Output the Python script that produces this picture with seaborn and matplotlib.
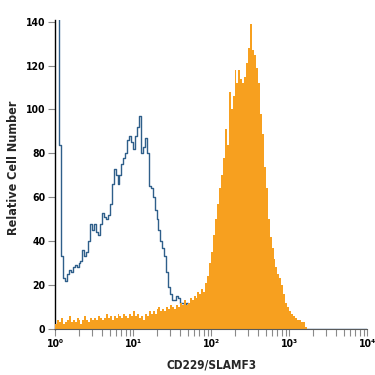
import matplotlib
matplotlib.use('AGG')
import numpy as np
import matplotlib.pyplot as plt
from matplotlib.ticker import FixedLocator, FixedFormatter, LogLocator, NullFormatter
import seaborn as sns

# histogram channels: 0.025 decades wide, from 10^0 to 10^4
LOG_STEP = 0.025
N_BINS = 160

# isotype control (blue outline), counts per channel
isotype_counts = [
    160, 145, 84, 33, 23, 22, 25, 27, 26, 28,
    29, 28, 30, 31, 36, 33, 35, 40, 48, 45,
    48, 44, 43, 48, 53, 51, 50, 52, 57, 66,
    73, 70, 66, 70, 75, 78, 80, 86, 88, 85,
    82, 88, 92, 97, 80, 83, 87, 80, 65, 64,
    60, 54, 50, 45, 40, 37, 33, 26, 19, 16,
    13, 13, 15, 14, 12, 12, 11, 12, 11, 10,
    7, 4, 2,
]
isotype_counts = isotype_counts + [0] * (N_BINS - len(isotype_counts))

# CD229/SLAMF3 stained cells (orange fill), counts per channel
stained_counts = [
    2, 4, 3, 5, 2, 3, 4, 6, 3, 4,
    3, 5, 4, 2, 4, 6, 4, 3, 5, 4,
    5, 4, 6, 5, 4, 5, 7, 5, 6, 4,
    6, 5, 7, 6, 5, 7, 6, 5, 7, 6,
    8, 6, 7, 5, 6, 4, 7, 6, 8, 7,
    8, 7, 9, 10, 8, 9, 8, 10, 9, 11,
    10, 9, 11, 10, 12, 11, 13, 11, 12, 14,
    13, 15, 14, 17, 16, 18, 17, 21, 24, 30,
    35, 43, 50, 57, 64, 70, 78, 91, 84, 108,
    100, 106, 118, 112, 118, 114, 112, 115, 121, 128,
    139, 127, 125, 119, 112, 98, 89, 74, 64, 50,
    42, 37, 32, 28, 25, 23, 20, 16, 12, 10,
    8, 7, 6, 5, 4, 4, 3, 3, 1, 0,
]
stained_counts = stained_counts + [0] * (N_BINS - len(stained_counts))

x_ticks = [1, 10, 100, 1000, 10000]
x_tick_labels = ['10⁰', '10¹', '10²', '10³', '10⁴']
y_ticks = [0, 20, 40, 60, 80, 100, 120, 140]

channels = 10 ** (LOG_STEP * (np.arange(N_BINS) + 0.5))

sns.set_style('ticks')
plt.rcParams['font.family'] = ['Liberation Sans Narrow', 'DejaVu Sans']
plt.rcParams['font.weight'] = 'bold'
plt.rcParams['font.stretch'] = 'condensed'

BLUE = '#2f5f8a'
ORANGE = '#f7a01f'

fig = plt.figure(figsize=(3.75, 3.75), dpi=100)
ax = fig.add_axes([0.147, 0.123, 0.832, 0.825])

sns.histplot(x=channels, weights=isotype_counts, log_scale=True,
             binwidth=LOG_STEP, binrange=(0, 4), element='step', fill=False,
             color=BLUE, linewidth=1.0, ax=ax, zorder=2)
sns.histplot(x=channels, weights=stained_counts, log_scale=True,
             binwidth=LOG_STEP, binrange=(0, 4), element='step', fill=True,
             color=ORANGE, alpha=1, linewidth=0, ax=ax, zorder=3)

ax.set_xlim(1, 10000)
ax.set_ylim(0, 141)
ax.xaxis.set_major_locator(FixedLocator(x_ticks))
ax.xaxis.set_major_formatter(FixedFormatter(x_tick_labels))
ax.xaxis.set_minor_locator(LogLocator(base=10, subs=np.arange(2, 10)))
ax.xaxis.set_minor_formatter(NullFormatter())
ax.set_yticks(y_ticks)

ax.tick_params(axis='both', which='both', direction='out', color='#8a8a8a',
               width=0.8, labelsize=7.5, labelcolor='black')
ax.tick_params(axis='both', which='major', length=5, pad=2)
ax.tick_params(axis='x', which='minor', length=5)
for lbl in ax.get_xticklabels() + ax.get_yticklabels():
    lbl.set_fontweight('bold')

sns.despine(ax=ax)
ax.spines['left'].set_color('black')
ax.spines['left'].set_linewidth(1.0)
ax.spines['bottom'].set_color('#5a5a5a')
ax.spines['bottom'].set_linewidth(0.8)
ax.spines['bottom'].set_zorder(4)

ax.set_xlabel('CD229/SLAMF3', fontsize=8.5, fontweight='bold', labelpad=7)
ax.set_ylabel('Relative Cell Number', fontsize=9, fontweight='bold')
ax.yaxis.set_label_coords(-0.112, 0.52)

fig.savefig('out.png', dpi=100)
